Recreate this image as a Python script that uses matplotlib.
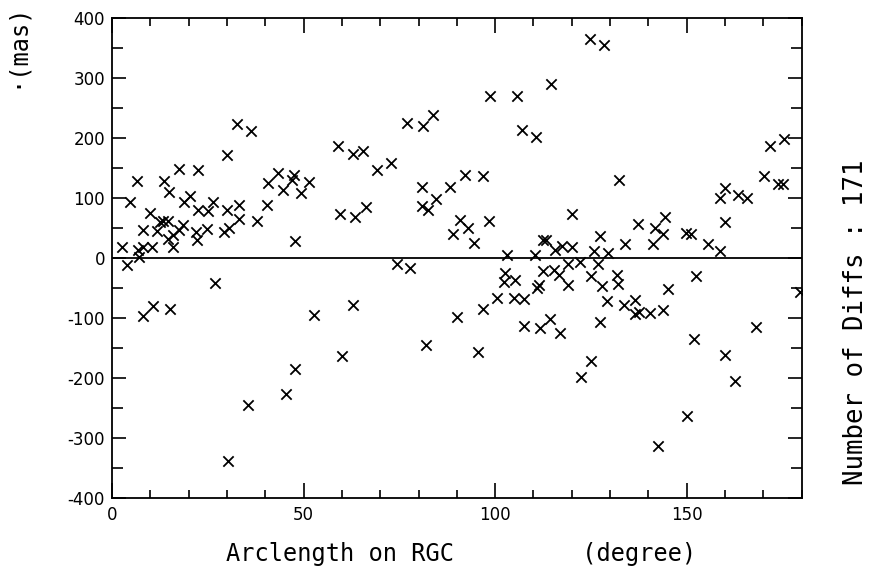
import matplotlib
matplotlib.use("Agg")
import matplotlib.pyplot as plt
from matplotlib.ticker import MultipleLocator

# ============================================
# DATA
# ============================================
arc = [
    29.9, 17.6, 22.5, 6.4, 13.6, 15.0, 4.7, 20.4, 18.8, 9.9,
    22.5, 25.1, 26.3, 29.9, 12.4, 13.4, 14.7, 8.2, 11.7, 18.6,
    17.6, 16.0, 14.7, 16.0, 21.9, 22.1, 24.7, 29.1, 30.6, 2.7,
    6.9, 8.2, 10.4, 3.8, 7.1, 26.9, 8.2, 10.8, 15.1, 30.4,
    32.7, 36.3, 59.1, 43.4, 40.8, 47.6, 46.9, 44.5, 49.3, 51.3,
    33.2, 40.4, 59.5, 33.2, 37.8, 47.8, 52.8, 60.0, 47.8, 45.3,
    35.4,
    62.8, 65.5, 76.9, 81.1, 83.9, 69.1, 72.8, 80.9, 88.1, 63.4,
    66.3, 80.9, 82.6, 84.6, 89.1, 90.9, 74.5, 77.8, 63.0, 90.0,
    82.0,
    92.0, 96.9, 98.7, 105.7, 114.6, 107.0, 110.6, 92.9, 98.5, 94.6,
    103.1, 110.3, 112.4, 113.2, 115.7, 117.4, 120.0, 120.0, 119.1, 102.6,
    102.4, 105.2, 112.4, 115.3, 116.7, 110.9, 111.5, 119.0, 100.4, 104.8,
    107.4, 96.9, 107.4, 111.7, 114.4, 116.8, 95.6,
    124.8, 128.3, 132.2, 122.2, 125.7, 127.4, 129.4, 126.8, 133.9, 137.3,
    141.6, 144.2, 143.9, 141.1, 149.8, 151.2, 125.1, 127.9, 131.8, 132.0,
    152.4, 145.1, 129.2, 133.5, 136.4, 136.4, 137.6, 140.5, 143.7, 127.4,
    125.0, 122.4, 150.0, 142.4,
    155.6, 158.6, 158.6, 159.9, 159.9, 163.4, 165.7, 170.1, 171.8, 173.8,
    175.0, 175.3, 179.6, 152.0, 168.1, 159.9, 162.5,
]
diff = [
    172, 149, 147, 129, 129, 110, 93, 104, 93, 75,
    81, 78, 93, 81, 61, 62, 62, 47, 46, 56,
    47, 39, 32, 19, 44, 31, 48, 44, 50, 18,
    14, 19, 18, -11, 2, -41, -96, -79, -85, -339,
    224, 212, 187, 142, 126, 138, 131, 113, 108, 127,
    88, 88, 73, 66, 62, 28, -94, -164, -185, -227,
    -245,
    173, 179, 226, 220, 238, 147, 159, 118, 119, 68,
    86, 87, 81, 99, 40, 63, -10, -16, -78, -98,
    -145,
    139, 137, 270, 270, 290, 214, 202, 51, 62, 26,
    5, 5, 30, 31, 14, 21, 18, 73, -9, -24,
    -40, -37, -22, -20, -28, -49, -44, -45, -66, -67,
    -68, -84, -113, -117, -102, -124, -157,
    366, 355, 131, -6, 12, 37, 8, -9, 23, 57,
    51, 69, 40, 23, 42, 41, -30, -47, -28, -43,
    -29, -52, -71, -78, -70, -93, -89, -91, -86, -106,
    -172, -198, -264, -314,
    24, 12, 101, 117, 60, 106, 100, 137, 187, 123,
    123, 199, -56, -134, -114, -162, -205,
]

N_DIFFS = 171
X_LABEL = "Arclength on RGC         (degree)"
Y_LABEL = "\u00b7(mas)"
RIGHT_LABEL = f"Number of Diffs : {N_DIFFS}"

# ============================================
# PLOT
# ============================================
plt.rcParams["axes.unicode_minus"] = False
plt.rcParams["font.family"] = "DejaVu Sans"

fig = plt.figure(figsize=(8.73, 5.74), dpi=100)
ax = fig.add_axes([0.1283, 0.1324, 0.7900, 0.8357])

ax.scatter(arc, diff, marker="x", s=55, color="black", linewidths=1.3, zorder=3)
ax.axhline(0, color="black", linewidth=1.3, zorder=2)

ax.set_xlim(0, 180)
ax.set_ylim(-400, 400)
ax.xaxis.set_major_locator(MultipleLocator(50))
ax.xaxis.set_minor_locator(MultipleLocator(10))
ax.yaxis.set_major_locator(MultipleLocator(100))
ax.yaxis.set_minor_locator(MultipleLocator(50))

ax.tick_params(which="both", direction="in", top=True, right=True,
               width=1.2, labelsize=12, colors="black")
ax.tick_params(axis="x", which="major", length=11, pad=6)
ax.tick_params(axis="x", which="minor", length=6)
ax.tick_params(axis="y", which="major", length=10, pad=5)
ax.tick_params(axis="y", which="minor", length=8)
for sp in ax.spines.values():
    sp.set_linewidth(1.3)

fig.text(0.528, 0.022, X_LABEL, ha="center", va="baseline",
         family="DejaVu Sans Mono", fontsize=17)
fig.text(0.018, 0.995, Y_LABEL, rotation=90, ha="center", va="top",
         family="DejaVu Sans Mono", fontsize=17)
fig.text(0.981, 0.439, RIGHT_LABEL, rotation=90, ha="center", va="center",
         family="DejaVu Sans Mono", fontsize=18.5)

fig.savefig("out.png", dpi=100)
